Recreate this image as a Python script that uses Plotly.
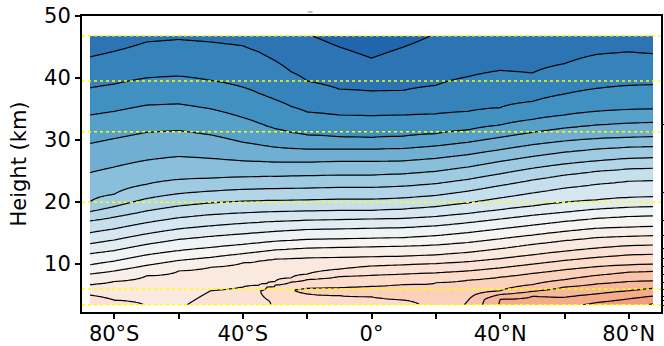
import numpy as np
import plotly.graph_objects as go

# ---------------- data ----------------
lats = [-87.5, -80, -70, -60, -50, -40, -35, -32.5, -30, -25, -20, -10, 0, 10, 20, 30, 40, 50, 60, 70, 80, 87.5]
h_bottom = 3.35
h_top = 46.8

# field value (band index units) at the top and bottom of every latitude column
top_value = [0.82, 1.0, 1.33, 1.4, 1.33, 1.25, 1.05, 0.95, 0.87, 0.7, 0.55, 0.25, 0.0, 0.25, 0.55, 0.7,
             0.8, 0.75, 0.9, 1.0, 1.05, 1.0]
bottom_value = [16.3, 16.1, 15.45, 15.35, 15.9, 16.05, 16.1, 16.3, 16.7, 16.9, 17.0, 17.1, 17.2, 17.3, 17.7,
                18.6, 20.6, 20.9, 21.3, 21.65, 22.1, 22.6]

N = None
# height (km) of each contour line at each latitude (None = line absent in that column)
line_00_5 = [N, N, N, N, N, N, N, N, N, N, N, 45.0, 43.2, 45.0, N, N, N, N, N, N, N, N]
line_01_5 = [43.4, 44.3, 45.8, 46.2, 45.8, 45.2, 44.2, 43.5, 42.8, 41.0, 39.5, 38.2, 37.9, 38.0, 38.8, 40.2,
             41.2, 40.8, 42.3, 43.8, 44.2, 43.9]
line_02_5 = [38.4, 39.0, 40.0, 40.3, 39.6, 38.5, 37.5, 37.0, 36.5, 35.4, 34.5, 34.0, 33.9, 34.0, 34.2, 34.6,
             35.2, 36.2, 37.4, 38.3, 38.8, 38.9]
line_03_5 = [34.0, 34.6, 35.6, 35.8, 35.0, 33.6, 32.7, 32.2, 31.8, 31.2, 30.8, 30.5, 30.4, 30.6, 31.0, 31.6,
             32.4, 33.3, 34.0, 34.6, 34.9, 35.0]
line_04_5 = [29.4, 30.2, 31.2, 31.5, 30.8, 29.6, 29.2, 29.0, 28.8, 28.6, 28.5, 28.5, 28.5, 28.6, 29.0, 29.6,
             30.4, 31.2, 31.9, 32.4, 32.7, 32.8]
line_05_5 = [24.7, 25.6, 26.7, 27.3, 27.0, 26.6, 26.5, 26.45, 26.4, 26.4, 26.4, 26.5, 26.5, 26.6, 27.0, 27.6,
             28.4, 29.2, 29.8, 30.2, 30.4, 30.5]
line_06_5 = [20.0, 21.2, 22.8, 23.6, 23.8, 24.0, 24.05, 24.1, 24.1, 24.15, 24.2, 24.3, 24.3, 24.5, 24.9, 25.6,
             26.5, 27.3, 28.0, 28.5, 28.8, 28.9]
line_07_5 = [18.4, 19.2, 20.5, 21.3, 21.7, 22.0, 22.05, 22.1, 22.1, 22.15, 22.2, 22.3, 22.3, 22.5, 22.9, 23.6,
             24.5, 25.4, 26.1, 26.6, 27.0, 27.1]
line_08_5 = [16.9, 17.5, 18.5, 19.3, 19.8, 20.1, 20.15, 20.2, 20.2, 20.25, 20.3, 20.4, 20.4, 20.6, 21.0, 21.7,
             22.6, 23.5, 24.3, 24.9, 25.3, 25.4]
line_09_5 = [15.0, 15.6, 16.6, 17.4, 17.9, 18.2, 18.3, 18.35, 18.4, 18.45, 18.5, 18.6, 18.6, 18.8, 19.2, 19.8,
             20.6, 21.4, 22.2, 22.8, 23.3, 23.4]
line_10_5 = [13.2, 13.8, 14.8, 15.6, 16.1, 16.5, 16.65, 16.75, 16.8, 16.9, 17.0, 17.1, 17.2, 17.3, 17.6, 18.1,
             18.7, 19.3, 19.9, 20.3, 20.7, 20.8]
line_11_5 = [11.6, 12.1, 13.1, 13.9, 14.4, 14.8, 15.0, 15.1, 15.2, 15.35, 15.5, 15.6, 15.7, 15.8, 16.1, 16.6,
             17.2, 17.8, 18.3, 18.8, 19.1, 19.2]
line_12_5 = [9.8, 10.4, 11.4, 12.1, 12.6, 13.1, 13.35, 13.5, 13.6, 13.75, 13.9, 14.0, 14.1, 14.2, 14.5, 15.0,
             15.6, 16.2, 16.8, 17.3, 17.6, 17.7]
line_13_5 = [8.3, 8.8, 9.7, 10.5, 11.0, 11.6, 11.9, 12.05, 12.2, 12.35, 12.5, 12.6, 12.7, 12.8, 13.0, 13.4,
             14.0, 14.6, 15.2, 15.7, 15.9, 16.0]
line_14_5 = [6.6, 7.1, 8.0, 8.8, 9.4, 10.1, 10.4, 10.55, 10.7, 10.8, 10.9, 11.0, 11.1, 11.2, 11.4, 11.8,
             12.4, 13.1, 13.7, 14.2, 14.4, 14.5]
line_15_5 = [4.9, 4.1, N, N, 5.6, 6.2, 6.5, 6.8, 7.1, 7.7, 8.3, 9.1, 9.6, 9.8, 10.0, 10.3,
             10.8, 11.4, 12.0, 12.5, 12.9, 13.0]
line_16_5 = [N, N, N, N, N, N, N, 6.2, 6.5, 7.0, 7.4, 7.9, 8.1, 8.3, 8.5, 8.8,
             9.3, 9.9, 10.5, 11.0, 11.4, 11.5]
bulge_core = [N, N, N, N, N, N, 5.6, 5.2, N, N, N, N, N, N, N, N, N, N, N, N, N, N]
bulge_value = [N, N, N, N, N, N, 16.45, 16.8, N, N, N, N, N, N, N, N, N, N, N, N, N, N]
line_16_5_lower = [N, N, N, N, N, N, N, 4.2, N, N, N, N, N, N, N, N, N, N, N, N, N, N]
line_17_5_upper = [N, N, N, N, N, N, N, N, N, N, 6.0, 6.1, 6.3, 6.6, 6.9, 7.3,
                   7.8, 8.4, 9.0, 9.5, 9.8, 9.9]
tongue_core = [N, N, N, N, N, N, N, N, N, 5.75, 5.6, 5.5, 5.4, 5.3, N, N, N, N, N, N, N, N]
tongue_value = [N, N, N, N, N, N, N, N, N, 17.45, 17.75, 18.0, 18.0, 18.0, N, N, N, N, N, N, N, N]
line_17_5_lower = [N, N, N, N, N, N, N, N, N, N, 5.1, 4.8, 4.6, 4.1, N, N, N, N, N, N, N, N]
line_18_5 = [N, N, N, N, N, N, N, N, N, N, N, N, N, N, N, 4.0, 5.6, 6.6, 7.4, 8.1, 8.6, 8.75]
line_19_5 = [N, N, N, N, N, N, N, N, N, N, N, N, N, N, N, N, 5.0, 5.5, 6.2, 6.7, 7.1, 7.2]
line_20_5 = [N, N, N, N, N, N, N, N, N, N, N, N, N, N, N, N, 4.2, 4.7, 4.55, 5.1, 5.6, 6.0]
line_21_5 = [N, N, N, N, N, N, N, N, N, N, N, N, N, N, N, N, N, N, N, 3.7, 4.3, 4.75]
line_22_5 = [N, N, N, N, N, N, N, N, N, N, N, N, N, N, N, N, N, N, N, N, N, 3.5]

# horizontal reference levels (yellow dotted lines), km
ref_levels = [46.8, 39.5, 31.3, 19.9, 5.9, 3.35]
# right-hand axis tick positions (km)
right_ticks = [32.4, 21.5, 16.9, 14.6, 12.4, 10.8, 9.45, 8.27, 7.0, 5.8, 4.75, 4.05, 3.2]

x_tickvals = [-80, -40, 0, 40, 80]
x_ticktext = ["80°S", "40°S", "0°", "40°N", "80°N"]
x_minor = [-60, -20, 20, 60]
y_tickvals = [10, 20, 30, 40, 50]

# ---------------- build grid for the contour trace ----------------
features = [
    (0.5, line_00_5), (1.5, line_01_5), (2.5, line_02_5), (3.5, line_03_5), (4.5, line_04_5),
    (5.5, line_05_5), (6.5, line_06_5), (7.5, line_07_5), (8.5, line_08_5), (9.5, line_09_5),
    (10.5, line_10_5), (11.5, line_11_5), (12.5, line_12_5), (13.5, line_13_5), (14.5, line_14_5),
    (15.5, line_15_5), (16.5, line_16_5), (bulge_value, bulge_core), (16.5, line_16_5_lower),
    (17.5, line_17_5_upper), (tongue_value, tongue_core), (17.5, line_17_5_lower),
    (18.5, line_18_5), (19.5, line_19_5), (20.5, line_20_5), (21.5, line_21_5), (22.5, line_22_5),
]
heights = np.round(np.arange(h_bottom, h_top + 1e-6, 0.05), 3)
z = np.zeros((len(heights), len(lats)))
for j in range(len(lats)):
    knots = [(h_bottom, bottom_value[j]), (h_top, top_value[j])]
    for val, arr in features:
        if arr[j] is not None:
            v = val[j] if isinstance(val, list) else val
            knots.append((arr[j], v))
    knots.sort()
    kh = [k[0] for k in knots]
    kv = [k[1] for k in knots]
    z[:, j] = np.interp(heights, kh, kv)

# ---------------- colours (matplotlib RdBu_r) ----------------
rdbu_r = ["#053061", "#2166ac", "#4393c3", "#92c5de", "#d1e5f0", "#f7f7f7",
          "#fddbc7", "#f4a582", "#d6604d", "#b2182b", "#67001f"]


def hex2rgb(h):
    h = h.lstrip("#")
    return np.array([int(h[i:i + 2], 16) for i in (0, 2, 4)], dtype=float)


stops = [hex2rgb(c) for c in rdbu_r]


def cmap(p):
    p = min(max(p, 0), 1) * 10
    i = int(min(np.floor(p), 9))
    f = p - i
    c = stops[i] * (1 - f) + stops[i + 1] * f
    return "rgb(%d,%d,%d)" % tuple(np.round(c))


nb = 24
zmin, zmax = -0.5, nb - 0.5
colorscale = []
for k in range(nb):
    if k <= 12.75:
        p = 0.5 - (12.75 - k) * 0.0314
    else:
        p = 0.5 + (k - 12.75) * 0.0227
    col = cmap(p)
    a = (k - 0.5 - zmin) / (zmax - zmin)
    b = (k + 0.5 - zmin) / (zmax - zmin)
    colorscale.append([a, col])
    colorscale.append([b, col])

fig = go.Figure()
fig.add_trace(go.Contour(
    x=lats, y=heights, z=z,
    zmin=zmin, zmax=zmax, colorscale=colorscale,
    contours=dict(start=0.5, end=22.5, size=1, coloring="fill"),
    line=dict(color="black", width=1.2),
    showscale=False, hoverinfo="skip",
))

for lev in ref_levels:
    fig.add_trace(go.Scatter(x=[-90, 90], y=[lev, lev], mode="lines",
                             line=dict(color="#ffff00", width=1.5, dash="dot"),
                             showlegend=False, hoverinfo="skip"))

# invisible trace carrying the right-hand axis
fig.add_trace(go.Scatter(x=[0], y=[10], yaxis="y2", mode="markers",
                         marker=dict(opacity=0), showlegend=False, hoverinfo="skip"))

# tiny grey dash above the frame (remnant mark in the original)
fig.add_shape(type="line", xref="x", yref="paper", x0=-19.9, x1=-18.3, y0=1.0135, y1=1.0135,
              line=dict(color="#888888", width=1))

font = dict(family="DejaVu Sans", size=21, color="black")
fig.update_layout(
    width=664, height=346,
    margin=dict(l=82, r=3, t=16, b=34),
    paper_bgcolor="white", plot_bgcolor="white",
    font=font, showlegend=False,
    xaxis=dict(range=[-90, 90], tickvals=x_tickvals, ticktext=x_ticktext,
               ticks="outside", ticklen=5, tickwidth=1.5, tickcolor="black",
               minor=dict(tickvals=x_minor, ticks="outside", ticklen=5, tickwidth=1.5, tickcolor="black"),
               showline=True, linewidth=2, linecolor="black", mirror=True,
               showgrid=False, zeroline=False, tickfont=font, automargin=False,
               ticklabelstandoff=-3),
    yaxis=dict(range=[2.17, 50], tickvals=y_tickvals, ticks="outside", ticklen=5,
               tickwidth=1.5, tickcolor="black",
               showline=True, linewidth=2, linecolor="black", mirror=True,
               showgrid=False, zeroline=False, tickfont=font, automargin=False,
               title=dict(text="Height (km)", font=font, standoff=12)),
    yaxis2=dict(range=[2.17, 50], overlaying="y", side="right", tickvals=right_ticks,
                ticks="outside", ticklen=5, tickwidth=1.2, tickcolor="black",
                showticklabels=False, showgrid=False, zeroline=False, showline=False,
                automargin=False),
)

fig.write_html("out.html", config={"displayModeBar": False},
               post_script="document.body.style.margin='0';document.body.style.overflow='hidden';")
